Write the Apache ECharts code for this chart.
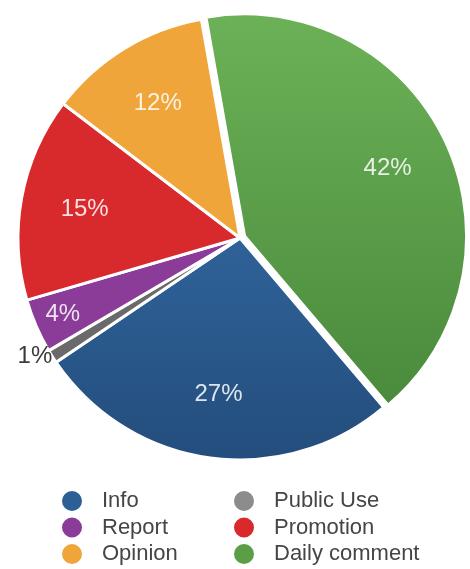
<!DOCTYPE html>
<html>
<head>
<meta charset="utf-8">
<script src="https://cdn.jsdelivr.net/npm/echarts@6/dist/echarts.min.js"></script>
<style>
html,body{margin:0;padding:0;background:#fff;}
#chart{width:470px;height:569px;}
</style>
</head>
<body>
<div id="chart"></div>
<script>
// Data (clockwise order starting at top)
const categories = ['Daily comment', 'Info', 'Public Use', 'Report', 'Promotion', 'Opinion'];
const values = [42, 27, 1, 4, 15, 12];
const legendLeft = ['Info', 'Report', 'Opinion'];
const legendRight = ['Public Use', 'Promotion', 'Daily comment'];

const palette = {
  'Daily comment': new echarts.graphic.LinearGradient(0, 0, 0, 1, [{offset: 0, color: '#6cb157'}, {offset: 1, color: '#4a8a3c'}]),
  'Info': new echarts.graphic.LinearGradient(0, 0, 0, 1, [{offset: 0, color: '#2f6299'}, {offset: 1, color: '#234d7c'}]),
  'Public Use': '#6a6a6a',
  'Report': '#8a3c98',
  'Promotion': '#d8292c',
  'Opinion': '#f0a53a'
};
const legendColors = {
  'Daily comment': '#5a9e48', 'Info': '#2c5f96', 'Public Use': '#8c8c8c',
  'Report': '#8a3c98', 'Promotion': '#d8292c', 'Opinion': '#f0a53a'
};

const chart = echarts.init(document.getElementById('chart'), null, {renderer: 'canvas'});

const mainData = categories.map((c, i) => ({
  name: c, value: values[i],
  selected: c === 'Daily comment',
  itemStyle: {color: palette[c]}
}));

function overlayData(shown, outsideSet) {
  return categories.map((c, i) => ({
    name: c, value: values[i],
    selected: c === 'Daily comment',
    itemStyle: {color: 'rgba(0,0,0,0)', borderWidth: 0},
    label: {
      show: shown.indexOf(c) >= 0,
      position: outsideSet.indexOf(c) >= 0 ? 'outside' : 'inside',
      color: outsideSet.indexOf(c) >= 0 ? '#3a3a3a' : 'rgba(255,255,255,0.85)'
    },
    labelLine: {show: false}
  }));
}

const labelFmt = p => p.value + '%';
const legendBase = {
  orient: 'vertical', icon: 'circle', itemWidth: 22, itemHeight: 22,
  selectedMode: false, padding: 0,
  textStyle: {fontSize: 22, lineHeight: 22, color: '#454545', fontFamily: 'Liberation Sans, Arial, sans-serif', padding: [0, 0, 0, 14]}
};
const rowTops = [489, 515.5, 542];
const legends = [];
legendLeft.forEach((n, i) => legends.push(Object.assign({}, legendBase, {left: 60, top: rowTops[i], data: [{name: n, itemStyle: {color: legendColors[n]}}]})));
legendRight.forEach((n, i) => legends.push(Object.assign({}, legendBase, {left: 232, top: rowTops[i], data: [{name: n, itemStyle: {color: legendColors[n]}}]})));

chart.setOption({
  animation: false,
  backgroundColor: '#ffffff',
  legend: legends,
  series: [
    {
      type: 'pie', center: [240, 238], radius: [0, 222], startAngle: 100, clockwise: true,
      selectedMode: 'multiple', selectedOffset: 5, silent: true,
      itemStyle: {borderColor: '#ffffff', borderWidth: 3},
      label: {show: false}, labelLine: {show: false},
      emphasis: {disabled: true},
      data: mainData
    },
    {
      type: 'pie', center: [240, 238], radius: [110, 200], startAngle: 100, clockwise: true,
      selectedMode: 'multiple', selectedOffset: 5, silent: true, z: 5,
      label: {formatter: labelFmt, fontSize: 24, fontFamily: 'Liberation Sans, Arial, sans-serif'},
      emphasis: {disabled: true},
      data: overlayData(['Daily comment', 'Info', 'Promotion', 'Opinion'], [])
    },
    {
      type: 'pie', center: [240, 238], radius: [170, 210], startAngle: 100, clockwise: true,
      selectedMode: 'multiple', selectedOffset: 5, silent: true, z: 5,
      label: {formatter: labelFmt, fontSize: 24, fontFamily: 'Liberation Sans, Arial, sans-serif', distanceToLabelLine: 0},
      labelLine: {show: false, length: 12, length2: 0},
      emphasis: {disabled: true},
      data: overlayData(['Report', 'Public Use'], ['Public Use'])
    }
  ]
});
</script>
</body>
</html>
